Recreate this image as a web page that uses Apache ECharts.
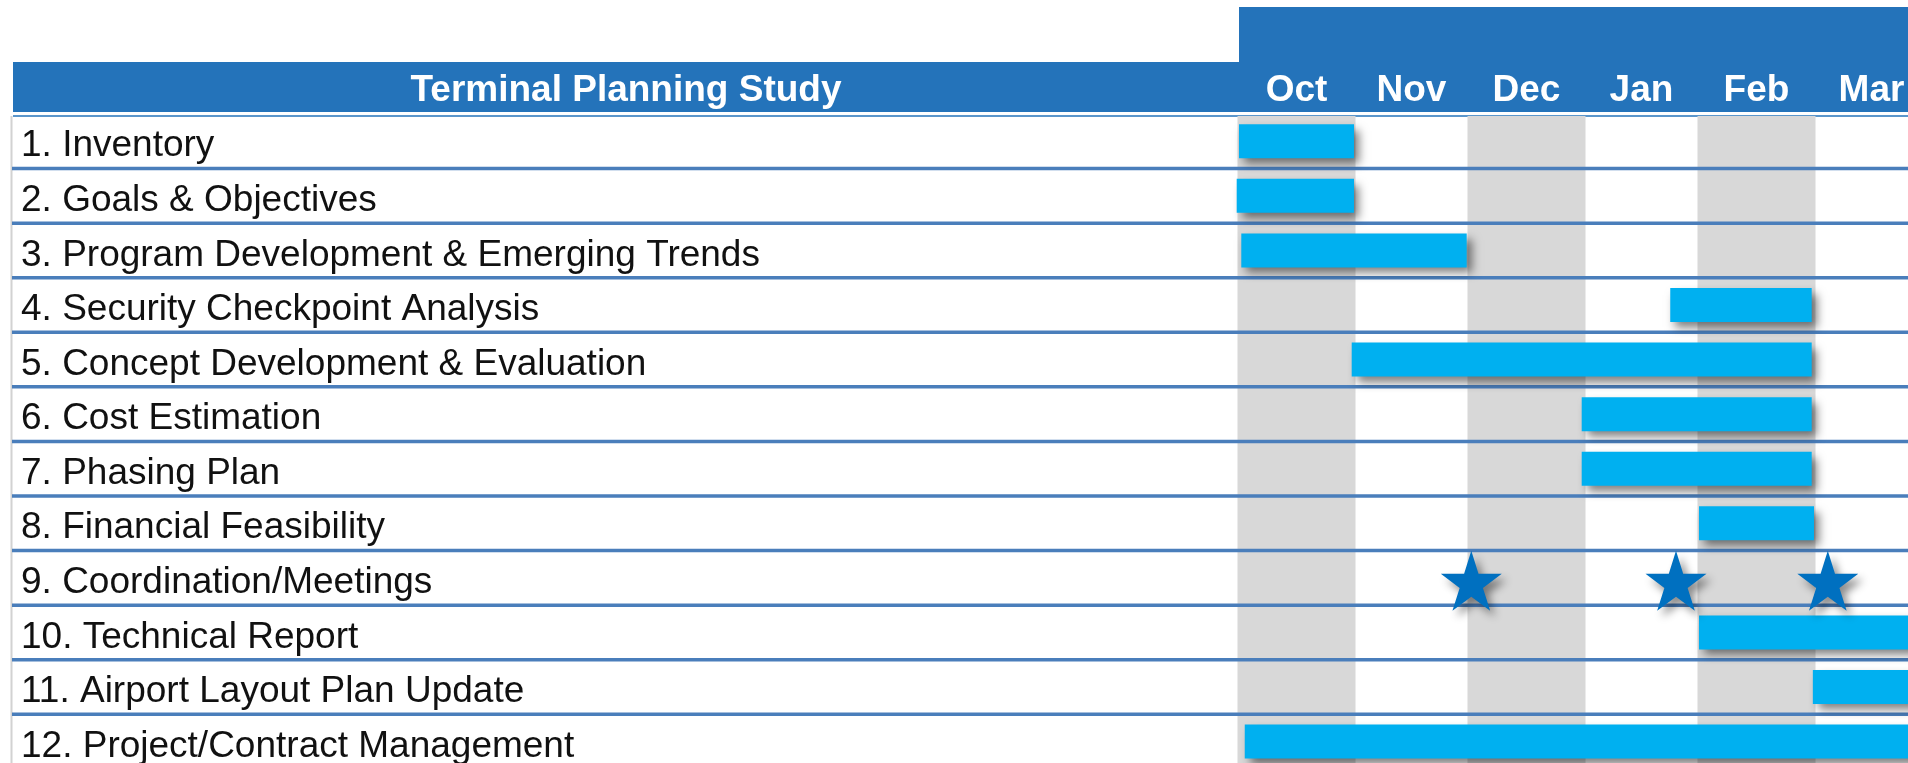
<!DOCTYPE html>
<html>
<head>
<meta charset="utf-8">
<title>Terminal Planning Study</title>
<script src="https://cdn.jsdelivr.net/npm/echarts@6/dist/echarts.min.js"></script>
<style>
  html, body { margin: 0; padding: 0; background: #ffffff; }
  #chart { width: 1908px; height: 763px; }
</style>
</head>
<body>
<div id="chart"></div>
<script>
// Schedule rows (top to bottom)
const tasks = [
  '1. Inventory',
  '2. Goals & Objectives',
  '3. Program Development & Emerging Trends',
  '4. Security Checkpoint Analysis',
  '5. Concept Development & Evaluation',
  '6. Cost Estimation',
  '7. Phasing Plan',
  '8. Financial Feasibility',
  '9. Coordination/Meetings',
  '10. Technical Report',
  '11. Airport Layout Plan Update',
  '12. Project/Contract Management'
];

// Month columns; time is measured in months from the start of October
const months = ['Oct', 'Nov', 'Dec', 'Jan', 'Feb', 'Mar'];

// Start / end of each task bar (null = milestone row, no bar)
const taskStart = [0.00, -0.02, 0.02, 3.75, 0.98, 2.98, 2.98, 4.00, null, 4.00, 4.99, 0.05];
const taskEnd   = [1.00,  1.00, 1.98, 4.98, 4.98, 4.98, 4.98, 5.00, null, 6.00, 6.00, 6.00];

// Meeting milestones (row 9)
const meetingRow = 8;
const meetingTimes = [2.02, 3.80, 5.12];

const HEADER_BLUE = '#2473BA';
const RULE_BLUE = '#4A7EBB';
const BAR_BLUE = '#00B0F0';
const STAR_BLUE = '#0070C0';
const SHADE = '#D8D8D8';
const FONT = '"Liberation Sans", Arial, sans-serif';

const ROW_H = 54.57;
const GRID_TOP = 114;
const GRID_LEFT = 1239;
const MONTH_W = 115;
const LABEL_X = 21;

const STAR_PATH = 'path://M50,0 L61.8,36.2 L100,36.2 L69.1,58.8 L80.9,95.1 L50,72.6 L19.1,95.1 L30.9,58.8 L0,36.2 L38.2,36.2 Z';

const barData = [];
tasks.forEach((t, i) => {
  if (taskStart[i] !== null) barData.push([i, taskStart[i], taskEnd[i]]);
});
const shadedMonths = months.map((m, i) => i).filter(i => i % 2 === 0);
const ruleRows = tasks.map((t, i) => i).filter(i => i > 0);
const starData = meetingTimes.map(t => [t, meetingRow]);

const chart = echarts.init(document.getElementById('chart'), null, { renderer: 'canvas' });

const option = {
  animation: false,
  backgroundColor: '#ffffff',
  grid: {
    left: GRID_LEFT,
    top: GRID_TOP,
    width: MONTH_W * months.length,
    height: ROW_H * tasks.length,
    containLabel: false,
    outerBoundsMode: 'none'
  },
  xAxis: [
    { type: 'value', min: 0, max: months.length, interval: 1, show: false },
    {
      type: 'category',
      data: months,
      position: 'top',
      boundaryGap: true,
      z: 5,
      axisLine: { show: false },
      axisTick: { show: false },
      splitLine: { show: false },
      axisLabel: {
        color: '#ffffff',
        fontWeight: 'bold',
        fontSize: 37,
        fontFamily: FONT,
        margin: 23.5,
        verticalAlign: 'middle'
      }
    }
  ],
  yAxis: {
    type: 'category',
    data: tasks,
    inverse: true,
    axisLine: { show: false },
    axisTick: { show: false },
    splitLine: { show: false },
    axisLabel: { show: false }
  },
  graphic: [
    { type: 'rect', z: 0, shape: { x: 1239, y: 7, width: 669, height: 56 }, style: { fill: HEADER_BLUE } },
    { type: 'rect', z: 0, shape: { x: 13, y: 62, width: 1895, height: 50 }, style: { fill: HEADER_BLUE } },
    {
      type: 'text', z: 6, x: 626, y: 90.5,
      style: {
        text: 'Terminal Planning Study', fill: '#ffffff',
        font: 'bold 37px ' + FONT, textAlign: 'center', textVerticalAlign: 'middle'
      }
    },
    { type: 'line', z: 0, shape: { x1: 13, y1: 116, x2: 1908, y2: 116 }, style: { stroke: HEADER_BLUE, lineWidth: 1.5 } },
    { type: 'line', z: 0, shape: { x1: 11.5, y1: 116, x2: 11.5, y2: 763 }, style: { stroke: '#D2D2D2', lineWidth: 2 } }
  ],
  series: [
    {
      // alternating shaded month columns
      type: 'custom',
      z: 1,
      xAxisIndex: 0,
      yAxisIndex: 0,
      data: shadedMonths.map(i => [i]),
      encode: { x: 0 },
      renderItem: function (params, api) {
        const cs = params.coordSys;
        const m = api.value(0);
        const x0 = api.coord([m, 0])[0] - 1.5;
        const x1 = api.coord([m + 1, 0])[0] + 1.5;
        return {
          type: 'rect',
          shape: { x: x0, y: cs.y + 2, width: x1 - x0, height: cs.height },
          style: { fill: SHADE }
        };
      },
      silent: true
    },
    {
      // horizontal rules between task rows, across the label column too
      type: 'custom',
      z: 2,
      xAxisIndex: 0,
      yAxisIndex: 0,
      data: ruleRows.map(i => [0, i]),
      encode: { x: 0, y: 1 },
      renderItem: function (params, api) {
        const row = api.value(1);
        const yc = api.coord([0, row])[1];
        const h = api.size([0, 1])[1];
        const y = yc - h / 2;
        return {
          type: 'line',
          shape: { x1: 12, y1: y, x2: api.getWidth(), y2: y },
          style: { stroke: RULE_BLUE, lineWidth: 3.5 }
        };
      },
      silent: true
    },
    {
      // task names in the left column, placed on each row of the category axis
      type: 'custom',
      z: 5,
      xAxisIndex: 0,
      yAxisIndex: 0,
      data: tasks.map((t, i) => [0, i]),
      encode: { x: 0, y: 1 },
      renderItem: function (params, api) {
        const row = api.value(1);
        const yc = api.coord([0, row])[1];
        return {
          type: 'text',
          x: LABEL_X,
          y: yc + 5,
          style: {
            text: tasks[params.dataIndex],
            font: '37px ' + FONT,
            fill: '#111111',
            textAlign: 'left',
            textVerticalAlign: 'middle'
          }
        };
      },
      silent: true
    },
    {
      // task bars
      type: 'custom',
      z: 3,
      xAxisIndex: 0,
      yAxisIndex: 0,
      data: barData,
      encode: { x: [1, 2], y: 0 },
      renderItem: function (params, api) {
        const row = api.value(0);
        const p0 = api.coord([api.value(1), row]);
        const p1 = api.coord([api.value(2), row]);
        const h = 34;
        return {
          type: 'rect',
          shape: { x: p0[0], y: p0[1] - h / 2, width: p1[0] - p0[0], height: h },
          style: {
            fill: BAR_BLUE,
            shadowBlur: 9,
            shadowOffsetX: 5,
            shadowOffsetY: 6,
            shadowColor: 'rgba(0,0,0,0.5)'
          }
        };
      }
    },
    {
      // meeting milestones
      type: 'scatter',
      z: 4,
      xAxisIndex: 0,
      yAxisIndex: 0,
      data: starData,
      symbol: STAR_PATH,
      symbolSize: [61, 60],
      symbolOffset: [0, 3],
      itemStyle: {
        color: STAR_BLUE,
        opacity: 1,
        shadowBlur: 9,
        shadowOffsetX: 5,
        shadowOffsetY: 6,
        shadowColor: 'rgba(0,0,0,0.45)'
      }
    }
  ]
};

chart.setOption(option);
</script>
</body>
</html>
